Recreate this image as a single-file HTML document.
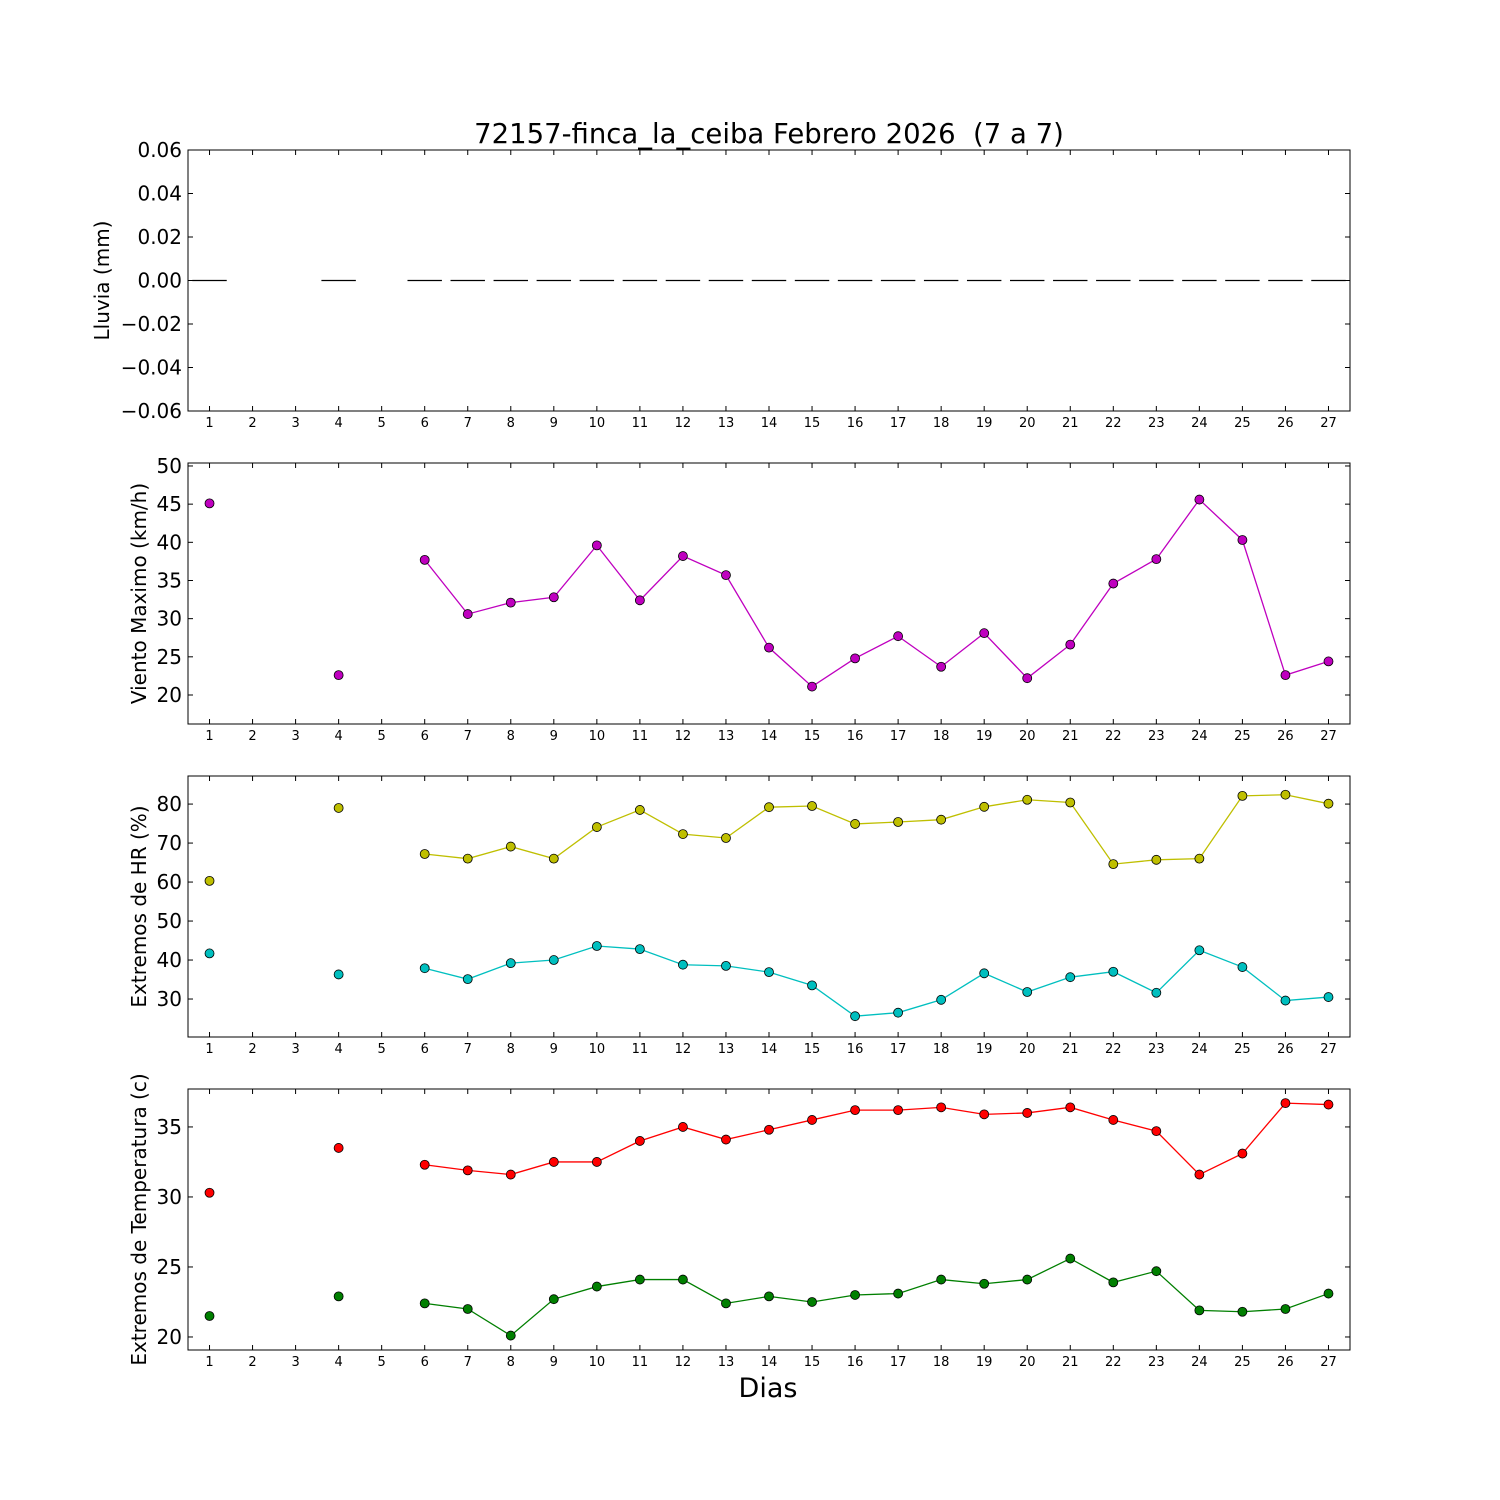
<!DOCTYPE html>
<html><head><meta charset="utf-8"><style>
body{margin:0;background:#fff}
svg{display:block;font-family:"DejaVu Sans","Liberation Sans",sans-serif}
text{white-space:pre}
</style></head><body>
<svg id="chart" width="1500" height="1500" viewBox="0 0 1500 1500"></svg>
<script>
const days = [1,2,3,4,5,6,7,8,9,10,11,12,13,14,15,16,17,18,19,20,21,22,23,24,25,26,27];
const rain = [0,null,null,0,null,0,0,0,0,0,0,0,0,0,0,0,0,0,0,0,0,0,0,0,0,0,0];
const wind = [45.1,null,null,22.6,null,37.7,30.6,32.1,32.8,39.6,32.4,38.2,35.7,26.2,21.1,24.8,27.7,23.7,28.1,22.2,26.6,34.6,37.8,45.6,40.3,22.6,24.4];
const hrMax = [60.3,null,null,79,null,67.2,66,69.1,66,74.1,78.5,72.3,71.3,79.2,79.5,74.9,75.4,76,79.3,81.1,80.4,64.6,65.7,66,82.1,82.4,80.1];
const hrMin = [41.7,null,null,36.3,null,37.9,35.1,39.2,40,43.6,42.8,38.8,38.5,36.9,33.5,25.6,26.5,29.8,36.6,31.8,35.6,37,31.6,42.5,38.2,29.6,30.5];
const tMax = [30.3,null,null,33.5,null,32.3,31.9,31.6,32.5,32.5,34,35,34.1,34.8,35.5,36.2,36.2,36.4,35.9,36,36.4,35.5,34.7,31.6,33.1,36.7,36.6];
const tMin = [21.5,null,null,22.9,null,22.4,22,20.1,22.7,23.6,24.1,24.1,22.4,22.9,22.5,23,23.1,24.1,23.8,24.1,25.6,23.9,24.7,21.9,21.8,22,23.1];
const rainTicks = ["0.06","0.04","0.02","0.00","\u22120.02","\u22120.04","\u22120.06"];
const windTicks = [20,25,30,35,40,45,50];
const hrTicks = [30,40,50,60,70,80];
const tTicks = [20,25,30,35];

const NS="http://www.w3.org/2000/svg";
const svg=document.getElementById('chart');
function el(tag,attrs,parent){const e=document.createElementNS(NS,tag);for(const k in attrs)e.setAttribute(k,attrs[k]);(parent||svg).appendChild(e);return e;}
const X0=188,X1=1350;
function xs(d){return X0+(d-0.5)*(X1-X0)/27;}

const panels=[
 {top:150,bot:411,ymin:-0.06,ymax:0.06,ticks:[0.06,0.04,0.02,0,-0.02,-0.04,-0.06],labels:rainTicks,label:"Lluvia (mm)",name:"rain-panel",lx:109},
 {top:463,bot:724,ymin:16.2,ymax:50.39,ticks:windTicks,labels:windTicks.map(String),label:"Viento Maximo (km/h)",name:"wind-panel",lx:146},
 {top:776,bot:1037,ymin:20.26,ymax:87.2,ticks:hrTicks,labels:hrTicks.map(String),label:"Extremos de HR (%)",name:"humidity-panel",lx:146},
 {top:1089,bot:1350,ymin:19.07,ymax:37.71,ticks:tTicks,labels:tTicks.map(String),label:"Extremos de Temperatura (c)",name:"temperature-panel",lx:146}
];
panels.forEach(p=>{
 p.ys=v=>p.bot-(v-p.ymin)/(p.ymax-p.ymin)*(p.bot-p.top);
 const g=el('g',{});
 
 
 p.g=g;
 el('rect',{x:X0,y:p.top,width:X1-X0,height:p.bot-p.top,fill:'#fff',stroke:'#000','stroke-width':1},g);
 p.ticks.forEach((t,i)=>{
  const y=p.ys(t);
  el('line',{x1:X0,x2:X0+5,y1:y,y2:y,stroke:'#000'},g);
  el('line',{x1:X1,x2:X1-5,y1:y,y2:y,stroke:'#000'},g);
  const tx=el('text',{x:X0-6,y:y+7,'text-anchor':'end','font-size':20},g);
  tx.textContent=p.labels[i];
 });
 days.forEach(d=>{
  const x=xs(d);
  el('line',{x1:x,x2:x,y1:p.bot,y2:p.bot-5,stroke:'#000'},g);
  el('line',{x1:x,x2:x,y1:p.top,y2:p.top+5,stroke:'#000'},g);
  const tx=el('text',{x:x,y:p.bot+16,'text-anchor':'middle','font-size':13},g);
  tx.textContent=d;
 });
 const yl=el('text',{x:0,y:0,'text-anchor':'middle','font-size':20,transform:`translate(${p.lx},${(p.top+p.bot)/2}) rotate(-90)`},g);
 
 
 yl.textContent=p.label;
});

rain.forEach((v,i)=>{
 if(v===null)return;
 const p=panels[0];
 const b=el('line',{x1:xs(days[i])-0.4*43.04,x2:xs(days[i])+0.4*43.04,y1:p.ys(v),y2:p.ys(v),stroke:'#000','stroke-width':1.2},p.g);
 
 
});

function series(p,vals,color,name){
 let path='',prev=false;
 vals.forEach((v,i)=>{
  if(v===null){prev=false;return;}
  path+=(prev?'L':'M')+xs(days[i])+' '+p.ys(v)+' ';prev=true;
 });
 const l=el('path',{d:path,fill:'none',stroke:color,'stroke-width':1.3},p.g);
 
 
 vals.forEach((v,i)=>{
  if(v===null)return;
  const c=el('circle',{cx:xs(days[i]),cy:p.ys(v),r:4.5,fill:color,stroke:'#000','stroke-width':0.8},p.g);
  
  
 });
}
series(panels[1],wind,'#bf00bf','wind');
series(panels[2],hrMax,'#bfbf00','humidity-max');
series(panels[2],hrMin,'#00bfbf','humidity-min');
series(panels[3],tMax,'#ff0000','temp-max');
series(panels[3],tMin,'#007f00','temp-min');

const t=el('text',{x:769,y:143,'text-anchor':'middle','font-size':27.5});


t.textContent="72157-finca_la_ceiba Febrero 2026  (7 a 7)";
const xl=el('text',{x:768,y:1397,'text-anchor':'middle','font-size':27});


xl.textContent="Dias";
</script>
</body></html>
